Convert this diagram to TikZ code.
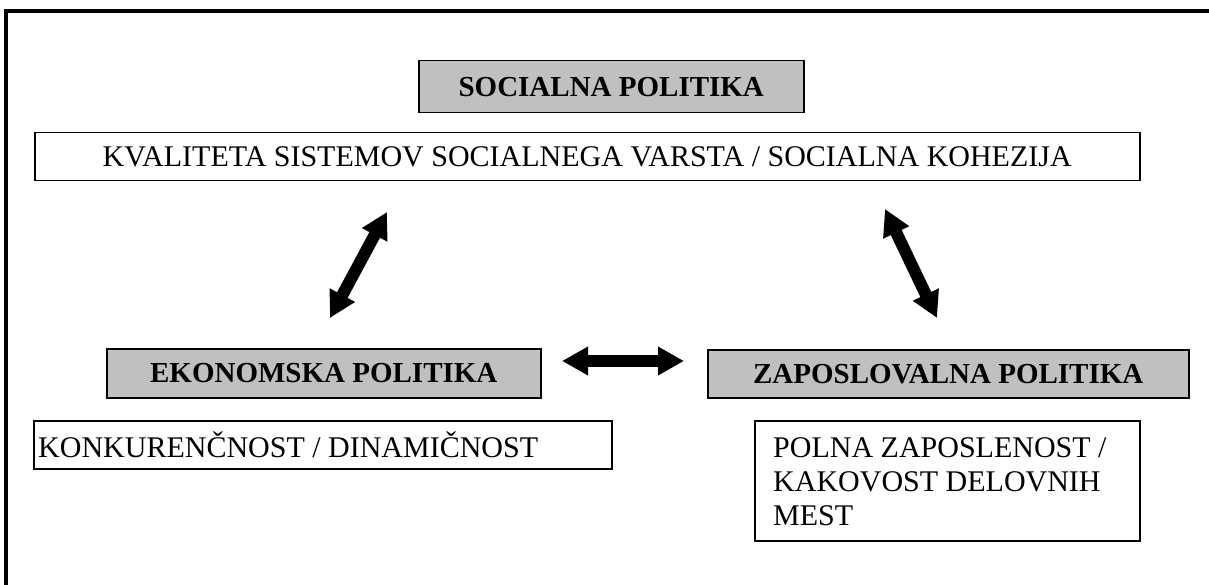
\documentclass[tikz,border=0pt]{standalone}
\usepackage{fontspec}
\setmainfont{Liberation Serif}
\usetikzlibrary{arrows.meta}
\definecolor{boxgray}{HTML}{C0C0C0}
\tikzset{
  box/.style={draw=black, line width=1.5pt, inner sep=0pt, anchor=north west},
  headbox/.style={box, fill=boxgray, font=\fontsize{29}{34}\selectfont\bfseries},
  textbox/.style={box, fill=white, font=\fontsize{30}{34}\selectfont},
  plaintext/.style={inner sep=0pt, font=\fontsize{30}{34}\selectfont, align=left},
  bigarrow/.style={line width=12pt, {Triangle[length=26pt,width=27pt]}-{Triangle[length=26pt,width=27pt]}},
  frame/.style={line width=4.5pt}
}
\begin{document}
\begin{tikzpicture}[x=1pt,y=-1pt]
\useasboundingbox (0,0) rectangle (1209,585);
\draw[frame] (6,585) -- (6,11) -- (1209,11);
\node[headbox, minimum width=385pt, minimum height=52pt] (soc) at (418,60) {SOCIALNA POLITIKA};
\node[textbox, minimum width=1105pt, minimum height=48pt] (kval) at (34,132) {KVALITETA SISTEMOV SOCIALNEGA VARSTA / SOCIALNA KOHEZIJA};
\node[headbox, minimum width=434pt, minimum height=49pt] (eko) at (106,348) {EKONOMSKA POLITIKA};
\node[headbox, minimum width=481pt, minimum height=48pt] (zap) at (707,349) {ZAPOSLOVALNA POLITIKA};
\node[textbox, minimum width=578pt, minimum height=48pt] (konk) at (33,420) {};
\node[plaintext, anchor=base west] (konktext) at (38,457) {KONKURENČNOST / DINAMIČNOST};
\node[textbox, minimum width=385pt, minimum height=120pt] (polna) at (754,420) {};
\node[plaintext, anchor=north west] (polnatext) at (773,437) {POLNA ZAPOSLENOST /\\KAKOVOST DELOVNIH\\MEST};
\coordinate (a1) at (387,212); \coordinate (a2) at (330,318);
\coordinate (b1) at (885,209); \coordinate (b2) at (937,318);
\coordinate (c1) at (562,361); \coordinate (c2) at (684,361);
\draw[bigarrow] (a1) -- (a2);
\draw[bigarrow] (b1) -- (b2);
\draw[bigarrow] (c1) -- (c2);
\end{tikzpicture}
\end{document}
